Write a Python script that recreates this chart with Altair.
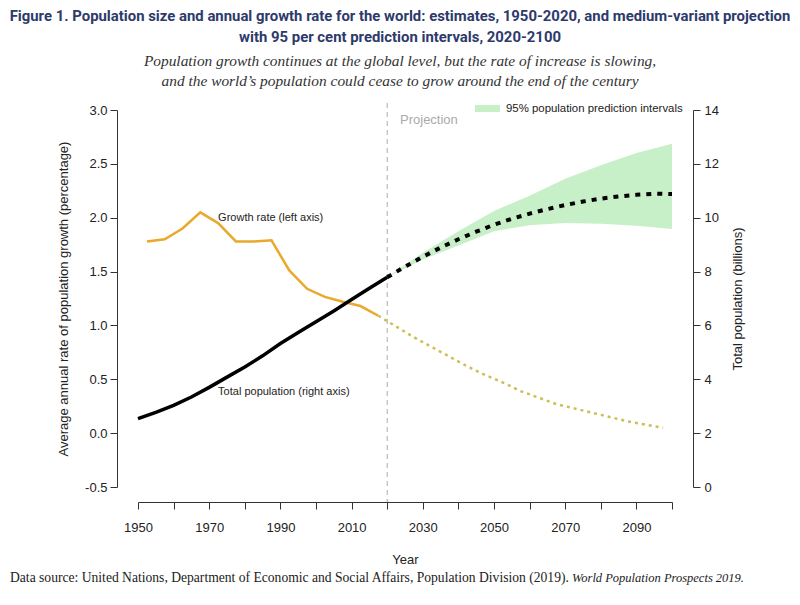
import altair as alt
import pandas as pd

# ---------------- text ----------------
TITLE_1 = "Figure 1. Population size and annual growth rate for the world: estimates, 1950-2020, and medium-variant projection"
TITLE_2 = "with 95 per cent prediction intervals, 2020-2100"
SUB_1 = "Population growth continues at the global level, but the rate of increase is slowing,"
SUB_2 = "and the world\u2019s population could cease to grow around the end of the century"
SOURCE_1 = "Data source: United Nations, Department of Economic and Social Affairs, Population Division (2019)."
SOURCE_2 = "World Population Prospects 2019."
LEFT_TITLE = "Average annual rate of population growth (percentage)"
RIGHT_TITLE = "Total population (billions)"
X_TITLE = "Year"
LABEL_RATE = "Growth rate (left axis)"
LABEL_POP = "Total population (right axis)"
LABEL_PROJ = "Projection"
LABEL_BAND = "95% population prediction intervals"

# ---------------- data ----------------
rate_est_years = [1952.5, 1957.5, 1962.5, 1967.5, 1972.5, 1977.5, 1982.5,
                  1987.5, 1992.5, 1997.5, 2002.5, 2007.5, 2012.5, 2017.5]
rate_est = [1.78, 1.80, 1.90, 2.05, 1.95, 1.78, 1.78,
            1.79, 1.51, 1.34, 1.265, 1.22, 1.18, 1.09]

rate_proj_years = [2017.5, 2022.5, 2027.5, 2032.5, 2037.5, 2042.5, 2047.5, 2052.5,
                   2057.5, 2062.5, 2067.5, 2072.5, 2077.5, 2082.5, 2087.5, 2092.5, 2097.5]
rate_proj = [1.09, 0.99, 0.89, 0.80, 0.71, 0.62, 0.54, 0.47,
             0.39, 0.33, 0.27, 0.23, 0.19, 0.15, 0.11, 0.08, 0.05]

pop_est_years = [1950, 1955, 1960, 1965, 1970, 1975, 1980, 1985,
                 1990, 1995, 2000, 2005, 2010, 2015, 2020]
pop_est = [2.54, 2.77, 3.03, 3.34, 3.70, 4.08, 4.46, 4.87,
           5.33, 5.74, 6.14, 6.54, 6.96, 7.38, 7.79]

pop_proj_years = [2020, 2025, 2030, 2035, 2040, 2045, 2050, 2055, 2060,
                  2065, 2070, 2075, 2080, 2085, 2090, 2095, 2100]
pop_proj = [7.79, 8.18, 8.55, 8.89, 9.20, 9.48, 9.74, 9.96, 10.15,
            10.32, 10.47, 10.60, 10.71, 10.79, 10.85, 10.89, 10.88]

band_years = [2020, 2030, 2040, 2050, 2060, 2070, 2080, 2090, 2100]
band_lo = [7.79, 8.45, 8.97, 9.50, 9.72, 9.80, 9.78, 9.70, 9.58]
band_hi = [7.79, 8.70, 9.50, 10.25, 10.82, 11.45, 11.95, 12.40, 12.75]

x_ticks = list(range(1950, 2101, 10))
left_ticks = [-0.5, 0.0, 0.5, 1.0, 1.5, 2.0, 2.5, 3.0]
right_ticks = [0, 2, 4, 6, 8, 10, 12, 14]

df_rate_est = pd.DataFrame({"year": rate_est_years, "rate": rate_est})
df_rate_proj = pd.DataFrame({"year": rate_proj_years, "rate": rate_proj})
df_pop_est = pd.DataFrame({"year": pop_est_years, "pop": pop_est})
df_pop_proj = pd.DataFrame({"year": pop_proj_years, "pop": pop_proj})
df_band = pd.DataFrame({"year": band_years, "lo": band_lo, "hi": band_hi,
                        "series": [LABEL_BAND] * len(band_years)})
one = pd.DataFrame({"k": [0]})

# ---------------- scales / axes ----------------
SANS = "Liberation Sans, Arial, sans-serif"
SERIF = "Liberation Serif, Times New Roman, serif"

x_scale = alt.Scale(domain=[1950, 2100], nice=False, zero=False)
x_axis = alt.Axis(values=x_ticks, format="d",
                  labelExpr="datum.value % 20 == 10 ? datum.label : ''",
                  offset=15, labelPadding=12, titlePadding=19, title=X_TITLE,
                  labelFlush=False, labelOverlap=False)

yl_scale = alt.Scale(domain=[-0.5, 3.0], nice=False, zero=False)
yl_axis = alt.Axis(values=left_ticks, orient="left", offset=21,
                   labelExpr="datum.value < 0 ? '-' + format(-datum.value, '.1f') : format(datum.value, '.1f')",
                   labelPadding=3, titlePadding=14, title=LEFT_TITLE)

yr_scale = alt.Scale(domain=[0, 14], nice=False, zero=False)
yr_axis = alt.Axis(values=right_ticks, format="d", orient="right", offset=21,
                   labelPadding=4, titlePadding=13, title=RIGHT_TITLE,
                   titleAngle=270, titleBaseline="top")


def X(field):
    return alt.X(field, type="quantitative", scale=x_scale, axis=x_axis)


def XD(v):
    return alt.XDatum(v, type="quantitative", scale=x_scale, axis=x_axis)


def YL(field):
    return alt.Y(field, type="quantitative", scale=yl_scale, axis=yl_axis)


def YLD(v):
    return alt.YDatum(v, type="quantitative", scale=yl_scale, axis=yl_axis)


def YR(field):
    return alt.Y(field, type="quantitative", scale=yr_scale, axis=yr_axis)


# ---------------- left group ----------------
proj_rule = alt.Chart(one).mark_rule(color="#aaaaaa", strokeDash=[5, 4], strokeWidth=1).encode(
    x=XD(2020), y=alt.value(-7), y2=alt.value(392))

rate_line = alt.Chart(df_rate_est).mark_line(color="#E8A92C", strokeWidth=2.5).encode(
    x=X("year"), y=YL("rate"))

rate_proj_line = alt.Chart(df_rate_proj).mark_line(
    color="#CDBE55", strokeWidth=2.5, strokeDash=[3, 4]).encode(
    x=X("year"), y=YL("rate"))

lbl_rate = alt.Chart(one).mark_text(
    text=LABEL_RATE, align="left", baseline="middle", font=SANS, fontSize=11, color="#222").encode(
    x=XD(1972.5), y=YLD(2.0))

lbl_pop = alt.Chart(one).mark_text(
    text=LABEL_POP, align="left", baseline="middle", font=SANS, fontSize=11, color="#222").encode(
    x=XD(1972.5), y=YLD(0.38))

lbl_proj = alt.Chart(one).mark_text(
    text=LABEL_PROJ, align="left", baseline="middle", font=SANS, fontSize=13, color="#aaaaaa").encode(
    x=XD(2023.6), y=YLD(2.91))


def block(text, x, y, **kw):
    return alt.Chart(one).mark_text(text=text, **kw).encode(x=alt.value(x), y=alt.value(y))


TITLE_FONT = "Roboto, Liberation Sans, sans-serif"
t1 = block(TITLE_1, 262, -93, align="center", baseline="middle", font=TITLE_FONT,
           fontWeight="bold", fontSize=14.9, color="#2D3A6B")
t2 = block(TITLE_2, 262, -72, align="center", baseline="middle", font=TITLE_FONT,
           fontWeight="bold", fontSize=14.9, color="#2D3A6B")
s1 = block(SUB_1, 262, -49, align="center", baseline="middle", font=SERIF,
           fontStyle="italic", fontSize=15.4, color="#333")
s2 = block(SUB_2, 262, -29, align="center", baseline="middle", font=SERIF,
           fontStyle="italic", fontSize=15.4, color="#333")
f1 = block(SOURCE_1, -128, 468, align="left", baseline="middle", font=SERIF,
           fontSize=13.6, color="#222")
f2 = block(SOURCE_2, 434, 468, align="left", baseline="middle", font=SERIF,
           fontStyle="italic", fontSize=12.5, color="#222")

left = alt.layer(proj_rule, rate_line, rate_proj_line, lbl_rate, lbl_pop, lbl_proj,
                 t1, t2, s1, s2, f1, f2)

# ---------------- right group ----------------
band = alt.Chart(df_band).mark_area(opacity=1).encode(
    x=X("year"), y=YR("lo"), y2="hi",
    color=alt.Color("series:N",
                    scale=alt.Scale(range=["#C8F0C8"]),
                    legend=alt.Legend(orient="none", legendX=337, legendY=-14, title=None,
                                      symbolType="M-1,-0.28H1V0.28H-1Z", symbolSize=625,
                                      symbolStrokeWidth=0, labelFont=SANS, labelFontSize=11.4,
                                      labelColor="#222", padding=0, labelOffset=6,
                                      labelLimit=400)))

pop_line = alt.Chart(df_pop_est).mark_line(color="black", strokeWidth=3.5).encode(
    x=X("year"), y=YR("pop"))

pop_proj_line = alt.Chart(df_pop_proj).mark_line(
    color="black", strokeWidth=4, strokeDash=[5, 6]).encode(
    x=X("year"), y=YR("pop"))

right = alt.layer(band, pop_line, pop_proj_line)

chart = alt.layer(left, right).resolve_scale(y="independent").properties(
    width=534, height=377,
    autosize=alt.AutoSizeParams(type="none"),
    padding={"left": 130, "top": 102, "right": 118, "bottom": 100},
).configure_view(stroke=None).configure_axis(
    grid=False, domainColor="#333", tickColor="#333", labelColor="#222", titleColor="#222",
    labelFont=SANS, titleFont=SANS, labelFontSize=13, titleFontSize=13,
    titleFontWeight="normal", tickSize=7, domainWidth=1, tickWidth=1)

chart.save("out.html", embed_options={"renderer": "svg", "actions": False})
